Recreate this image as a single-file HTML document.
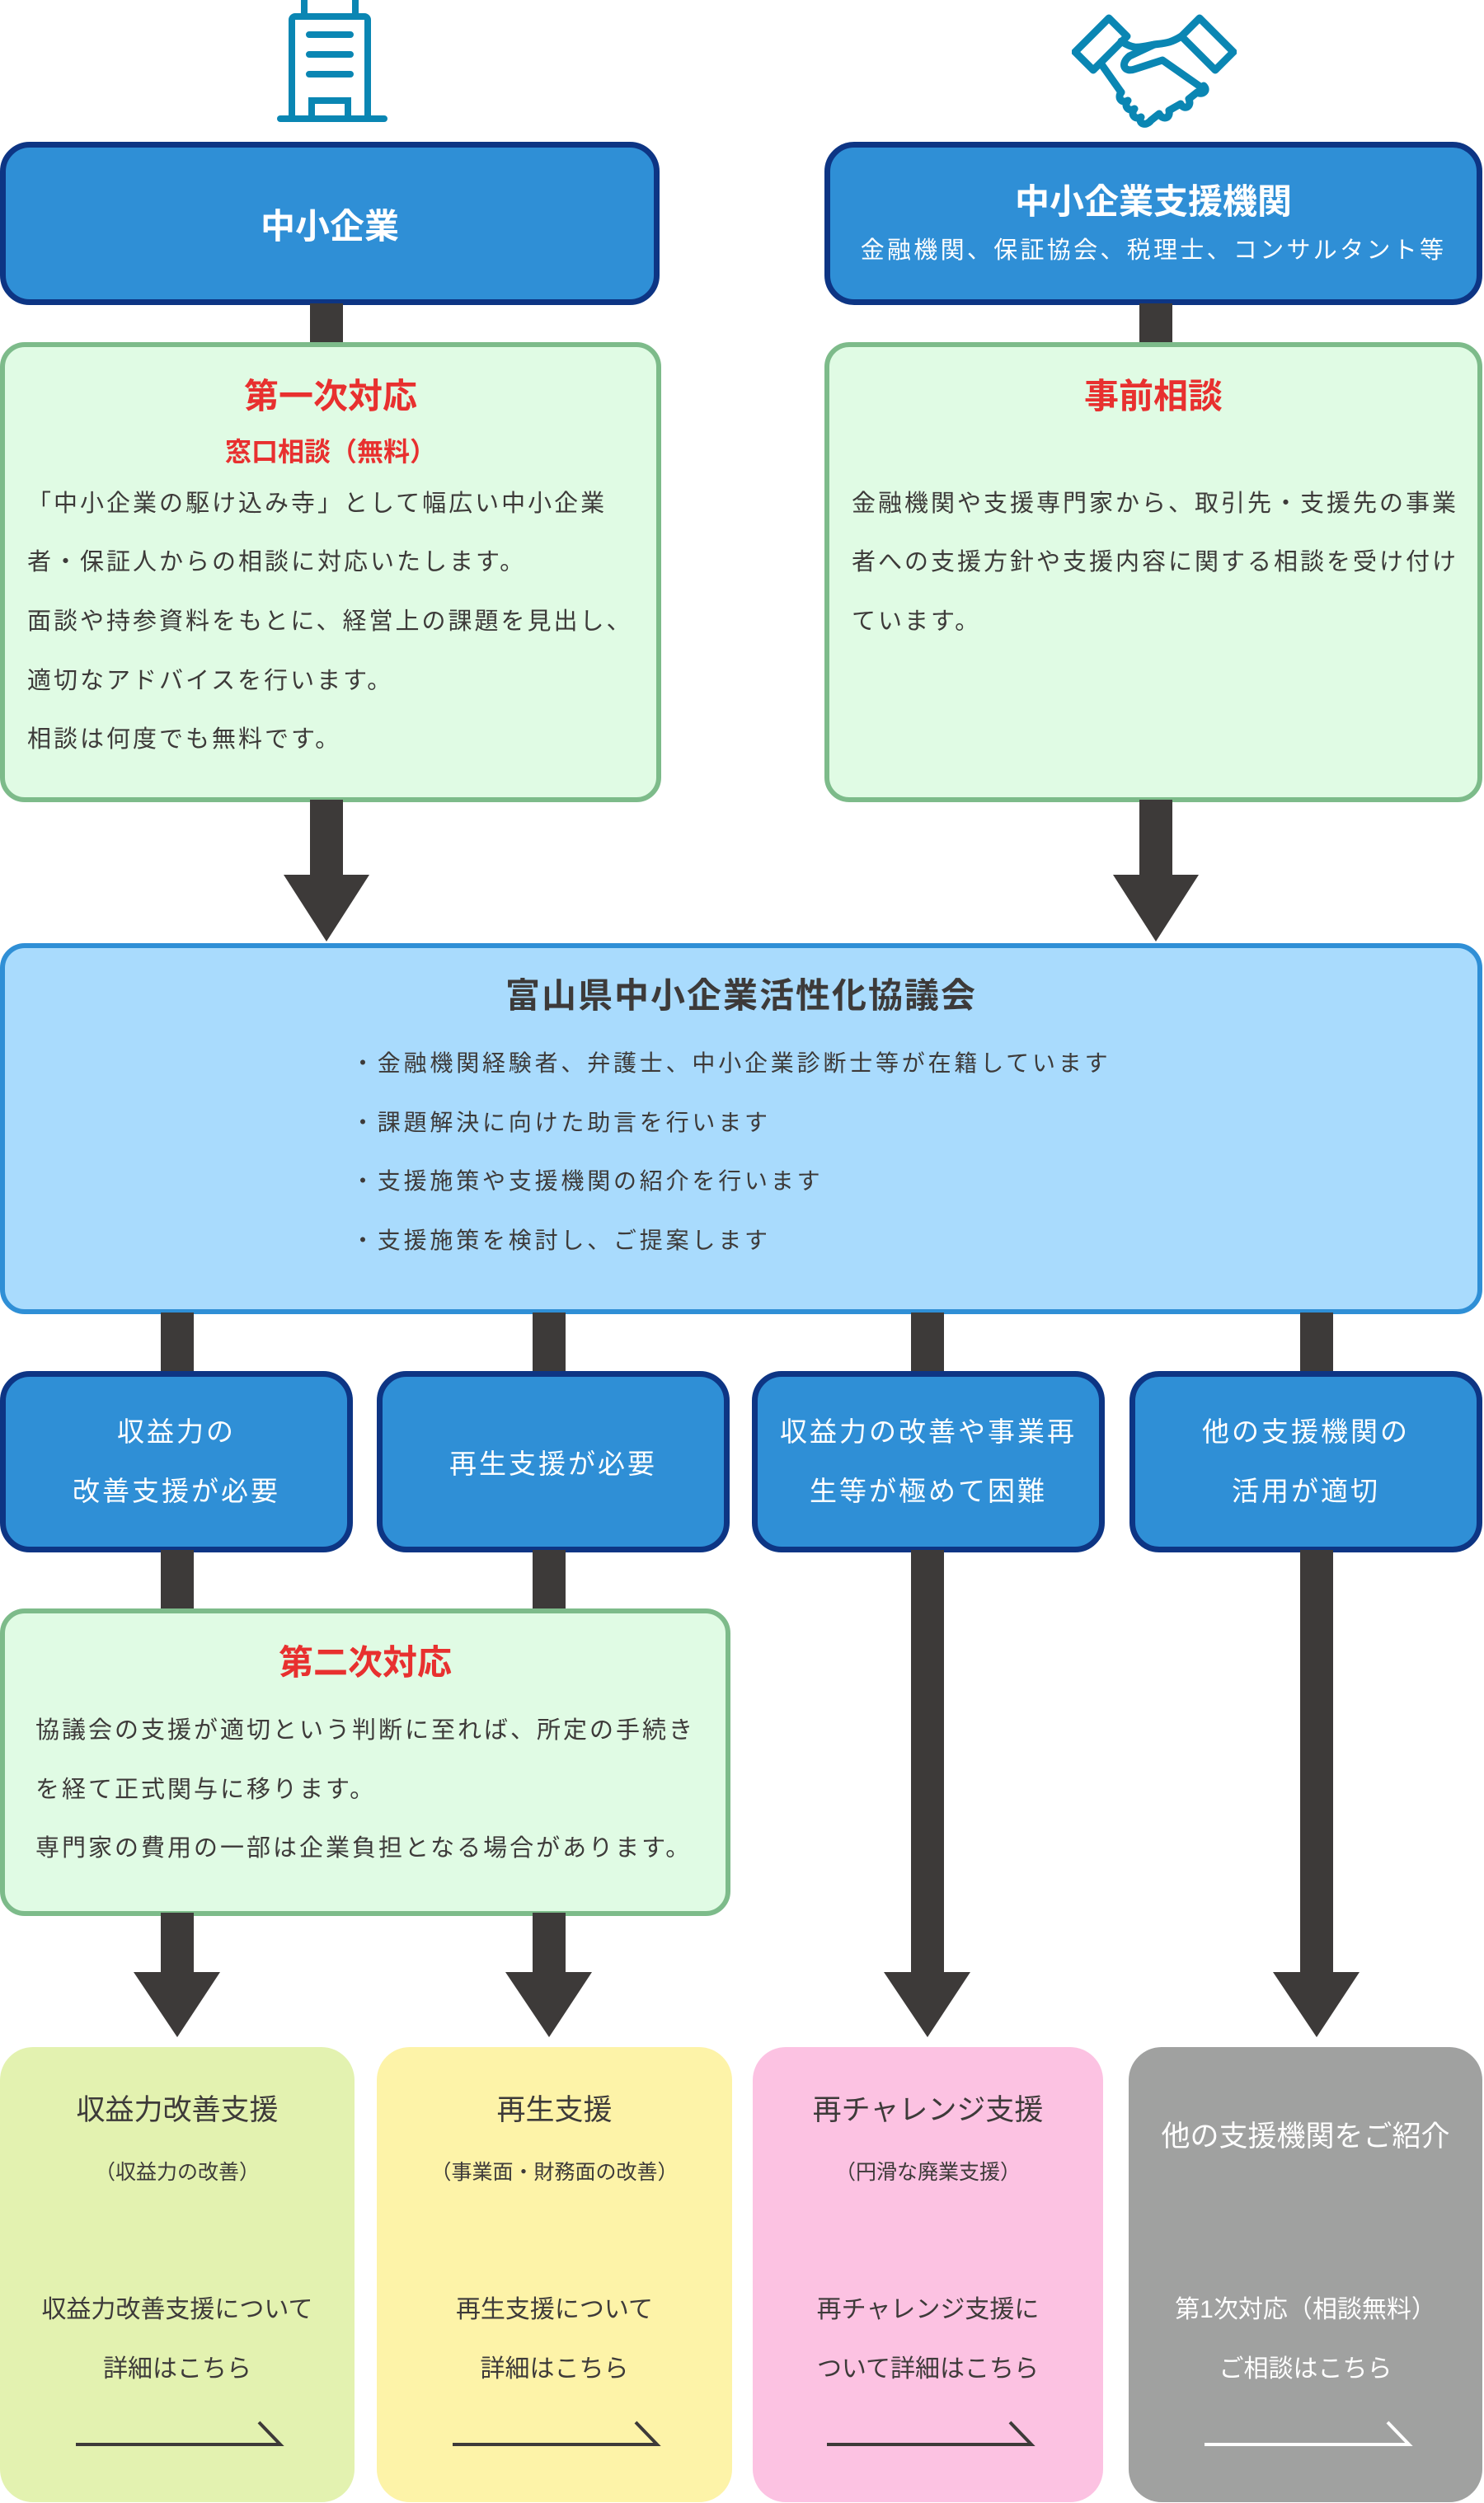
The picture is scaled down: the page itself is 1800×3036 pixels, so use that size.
<!DOCTYPE html>
<html><head><meta charset="utf-8"><style>
*{margin:0;padding:0;box-sizing:border-box}
body{width:1800px;height:3036px;background:#fff;position:relative;overflow:hidden;font-family:"Liberation Sans","Noto Sans CJK JP",sans-serif;color:#3d3a39}
.a{position:absolute}
.bar{position:absolute;background:#3d3a39;width:40px}
.blue{position:absolute;background:#2f8fd6;border:7px solid #0d3584;border-radius:36px;color:#fff;display:flex;flex-direction:column;align-items:center;justify-content:center;text-align:center}
.green{position:absolute;background:#e0fbe4;border:6px solid #7dbb8a;border-radius:30px}
.t{position:absolute;white-space:nowrap}
.c{left:0;right:0;text-align:center}
.red{color:#e8302f;font-weight:bold}
.body{font-size:29px;letter-spacing:3px}
.card{position:absolute;top:2483px;height:552px;border-radius:40px}
</style></head><body>

<svg class="a" style="left:330px;top:0" width="140" height="152" viewBox="0 0 140 152">
<g fill="none" stroke="#0a86b3" stroke-width="8" stroke-linecap="round">
<rect x="39" y="-4" width="62" height="24"/>
<path d="M24 144 V24 a4 4 0 0 1 4-4 H112 a4 4 0 0 1 4 4 V144"/>
<path d="M10 144 H136"/>
<path d="M45 42 H95 M45 66 H95 M45 90 H95"/>
<path d="M48 144 V122 H92 V144"/>
</g></svg>

<svg class="a" style="left:1300px;top:8px" width="200" height="148" viewBox="0 0 200 148">
<g fill="none" stroke="#0a86b3" stroke-width="9" stroke-linejoin="round" stroke-linecap="round">
<path d="M4 55 L45 14 L67 36 L26 77 Z"/>
<path d="M196 55 L155 14 L133 36 L174 77 Z"/>
<path d="M60 42 C75 52 80 50 100 46 C115 44 120 44 133 36"/>
<path d="M100 46 L70 60 C58 70 64 80 76 76 L110 65 L160 100"/>
<path d="M36 70 L60 104"/>
<path d="M60 104 C55 110 60 118 68 114 M68 114 C63 120 68 128 76 124 M76 124 C71 130 76 138 84 134 M84 134 C80 142 90 146 96 138 L106 130 C110 138 120 136 118 126 L132 118 C136 126 146 122 142 112 L152 104 C158 108 166 102 160 96"/>
</g></svg>

<div class="blue" style="left:0;top:172px;width:800px;height:198px"><div style="font-size:42px;font-weight:bold">中小企業</div></div>
<div class="blue" style="left:1000px;top:172px;width:798px;height:198px"><div style="font-size:42px;font-weight:bold;margin-top:-10px">中小企業支援機関</div><div style="font-size:29px;letter-spacing:3.3px;margin-top:8px">金融機関、保証協会、税理士、コンサルタント等</div></div>

<div class="bar" style="left:376px;top:368px;height:50px"></div>
<div class="bar" style="left:1382px;top:368px;height:50px"></div>

<div class="green" style="left:0;top:415px;width:802px;height:558px">
<div class="t c red" style="top:26px;font-size:42px">第一次対応</div>
<div class="t c red" style="top:102px;font-size:32px">窓口相談（無料）</div>
<div class="t body" style="left:27px;top:166px">「中小企業の駆け込み寺」として幅広い中小企業</div>
<div class="t body" style="left:27px;top:237px">者・保証人からの相談に対応いたします。</div>
<div class="t body" style="left:27px;top:309px">面談や持参資料をもとに、経営上の課題を見出し、</div>
<div class="t body" style="left:27px;top:381px">適切なアドバイスを行います。</div>
<div class="t body" style="left:27px;top:452px">相談は何度でも無料です。</div>
</div>
<div class="green" style="left:1000px;top:415px;width:798px;height:558px">
<div class="t c red" style="top:26px;font-size:42px">事前相談</div>
<div class="t body" style="left:27px;top:166px">金融機関や支援専門家から、取引先・支援先の事業</div>
<div class="t body" style="left:27px;top:237px">者への支援方針や支援内容に関する相談を受け付け</div>
<div class="t body" style="left:27px;top:309px">ています。</div>
</div>

<svg class="a" style="left:0;top:970px" width="1800" height="175">
<g fill="#3d3a39">
<rect x="376" y="0" width="40" height="92"/><polygon points="344,91 448,91 396,172"/>
<rect x="1382" y="0" width="40" height="92"/><polygon points="1350,91 1454,91 1402,172"/>
</g></svg>

<div class="a" style="left:0;top:1144px;width:1798px;height:450px;background:#a9dbfd;border:6px solid #2f8fd6;border-radius:30px">
<div class="t c" style="top:24px;font-size:42px;font-weight:bold;letter-spacing:2px">富山県中小企業活性化協議会</div>
<div class="t" style="left:420px;top:118px;font-size:28px;letter-spacing:3.8px">・金融機関経験者、弁護士、中小企業診断士等が在籍しています</div>
<div class="t" style="left:420px;top:190px;font-size:28px;letter-spacing:3.8px">・課題解決に向けた助言を行います</div>
<div class="t" style="left:420px;top:261px;font-size:28px;letter-spacing:3.8px">・支援施策や支援機関の紹介を行います</div>
<div class="t" style="left:420px;top:333px;font-size:28px;letter-spacing:3.8px">・支援施策を検討し、ご提案します</div>
</div>

<div class="bar" style="left:195px;top:1592px;height:75px"></div>
<div class="bar" style="left:646px;top:1592px;height:75px"></div>
<div class="bar" style="left:1105px;top:1592px;height:75px"></div>
<div class="bar" style="left:1577px;top:1592px;height:75px"></div>

<div class="blue" style="left:0;top:1663px;width:428px;height:220px;font-size:33px;letter-spacing:3px;line-height:72px"><div>収益力の<br>改善支援が必要</div></div>
<div class="blue" style="left:457px;top:1663px;width:428px;height:220px;font-size:33px;letter-spacing:3px"><div>再生支援が必要</div></div>
<div class="blue" style="left:912px;top:1663px;width:428px;height:220px;font-size:33px;letter-spacing:3px;line-height:72px"><div>収益力の改善や事業再<br>生等が極めて困難</div></div>
<div class="blue" style="left:1370px;top:1663px;width:428px;height:220px;font-size:33px;letter-spacing:3px;line-height:72px"><div>他の支援機関の<br>活用が適切</div></div>

<div class="bar" style="left:195px;top:1880px;height:75px"></div>
<div class="bar" style="left:646px;top:1880px;height:75px"></div>

<div class="green" style="left:0;top:1951px;width:886px;height:373px">
<div class="t c red" style="top:26px;font-size:42px">第二次対応</div>
<div class="t body" style="left:37px;top:118px">協議会の支援が適切という判断に至れば、所定の手続き</div>
<div class="t body" style="left:37px;top:190px">を経て正式関与に移ります。</div>
<div class="t body" style="left:37px;top:261px">専門家の費用の一部は企業負担となる場合があります。</div>
</div>

<svg class="a" style="left:0;top:1880px" width="1800" height="600">
<g fill="#3d3a39">
<rect x="195" y="440" width="40" height="75"/><polygon points="162,512 267,512 215,591"/>
<rect x="646" y="440" width="40" height="75"/><polygon points="613,512 718,512 666,591"/>
<rect x="1105" y="0" width="40" height="515"/><polygon points="1072,512 1177,512 1125,591"/>
<rect x="1577" y="0" width="40" height="515"/><polygon points="1544,512 1649,512 1597,591"/>
</g></svg>

<div class="card" style="left:0;width:430px;background:#e3f2b0">
<div class="t c" style="top:48px;font-size:35px">収益力改善支援</div>
<div class="t c" style="top:132px;font-size:25px">（収益力の改善）</div>
<div class="t c" style="top:293px;font-size:30px">収益力改善支援について</div>
<div class="t c" style="top:365px;font-size:30px">詳細はこちら</div>
<svg class="a" style="left:90px;top:450px" width="255" height="40"><path d="M2 32 H250 L224 5" fill="none" stroke="#3d3a39" stroke-width="4"/></svg>
</div>
<div class="card" style="left:457px;width:431px;background:#fdf3a8">
<div class="t c" style="top:48px;font-size:35px">再生支援</div>
<div class="t c" style="top:132px;font-size:25px">（事業面・財務面の改善）</div>
<div class="t c" style="top:293px;font-size:30px">再生支援について</div>
<div class="t c" style="top:365px;font-size:30px">詳細はこちら</div>
<svg class="a" style="left:90px;top:450px" width="255" height="40"><path d="M2 32 H250 L224 5" fill="none" stroke="#3d3a39" stroke-width="4"/></svg>
</div>
<div class="card" style="left:913px;width:425px;background:#fcc2e2">
<div class="t c" style="top:48px;font-size:35px">再チャレンジ支援</div>
<div class="t c" style="top:132px;font-size:25px">（円滑な廃業支援）</div>
<div class="t c" style="top:293px;font-size:30px">再チャレンジ支援に</div>
<div class="t c" style="top:365px;font-size:30px">ついて詳細はこちら</div>
<svg class="a" style="left:88px;top:450px" width="255" height="40"><path d="M2 32 H250 L224 5" fill="none" stroke="#3d3a39" stroke-width="4"/></svg>
</div>
<div class="card" style="left:1369px;width:429px;background:#a0a1a0;color:#fff">
<div class="t c" style="top:80px;font-size:35px">他の支援機関をご紹介</div>
<div class="t c" style="top:293px;font-size:30px">第1次対応（相談無料）</div>
<div class="t c" style="top:365px;font-size:30px">ご相談はこちら</div>
<svg class="a" style="left:90px;top:450px" width="255" height="40"><path d="M2 32 H250 L224 5" fill="none" stroke="#fff" stroke-width="4"/></svg>
</div>

</body></html>
